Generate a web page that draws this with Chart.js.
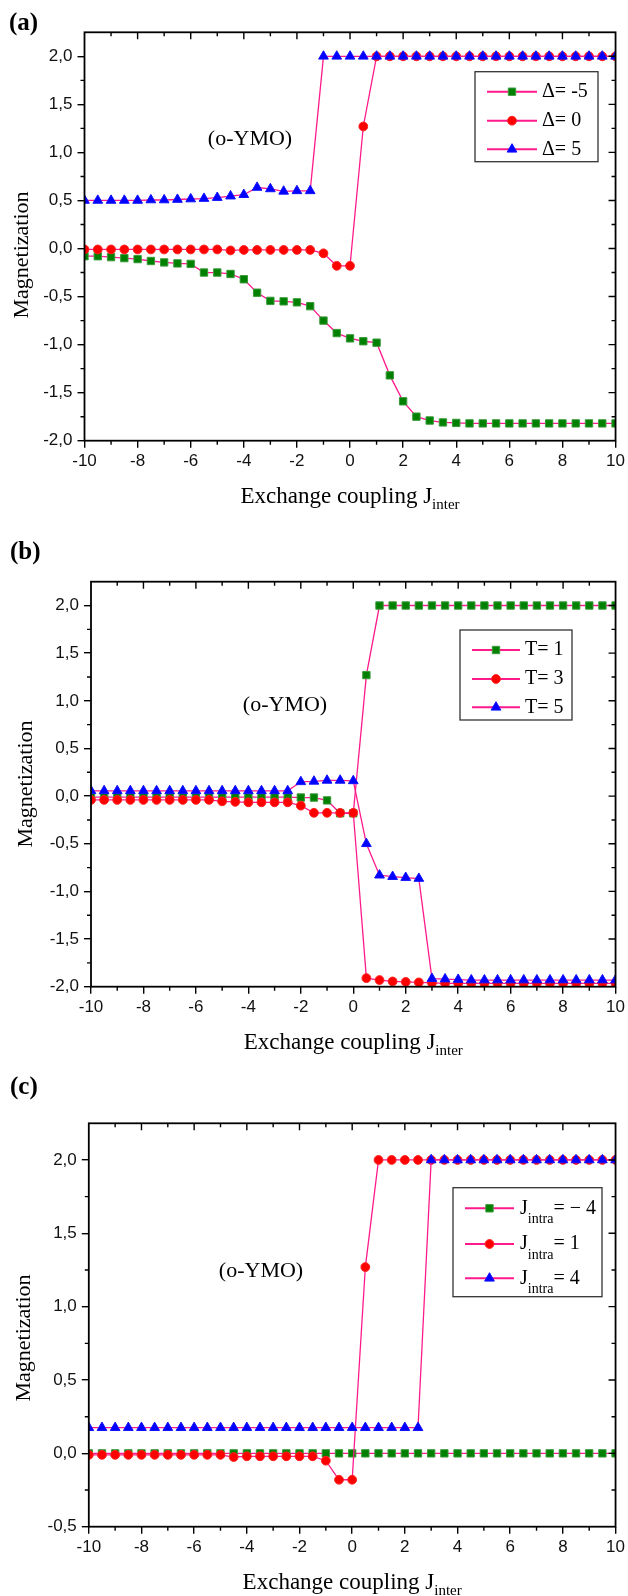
<!DOCTYPE html>
<html>
<head>
<meta charset="utf-8">
<script src="https://cdn.jsdelivr.net/npm/chart.js@4.4.1/dist/chart.umd.min.js"></script>
<style>
html, body { margin: 0; padding: 0; background: #fff; }
#wrap { position: relative; width: 628px; height: 1596px; overflow: hidden; }
canvas { position: absolute; left: 0; }
</style>
</head>
<body>
<div id="wrap">
  <canvas id="panelA" width="628" height="530" style="top:0px;width:628px;height:530px"></canvas>
  <canvas id="panelB" width="628" height="530" style="top:530px;width:628px;height:530px"></canvas>
  <canvas id="panelC" width="628" height="536" style="top:1060px;width:628px;height:536px"></canvas>
</div>
<script>
// x values shared by every curve (exchange coupling J_inter)
const jInter = [-10, -9.5, -9, -8.5, -8, -7.5, -7, -6.5, -6, -5.5, -5, -4.5, -4, -3.5, -3, -2.5, -2, -1.5, -1, -0.5,
                0, 0.5, 1, 1.5, 2, 2.5, 3, 3.5, 4, 4.5, 5, 5.5, 6, 6.5, 7, 7.5, 8, 8.5, 9, 9.5, 10];

// panel (a): anisotropy Delta
const deltaMinus5 = [-0.08, -0.08, -0.09, -0.10, -0.11, -0.13, -0.145, -0.155, -0.16, -0.25, -0.25, -0.265, -0.32, -0.46,
                     -0.545, -0.55, -0.56, -0.60, -0.75, -0.88, -0.935, -0.965, -0.98, -1.32, -1.59, -1.75, -1.79, -1.81,
                     -1.815, -1.82, -1.82, -1.82, -1.82, -1.82, -1.82, -1.82, -1.82, -1.82, -1.82, -1.82, -1.82];
const delta0 = [-0.01, -0.01, -0.01, -0.01, -0.01, -0.01, -0.01, -0.01, -0.01, -0.01, -0.01, -0.02, -0.015, -0.015,
                -0.015, -0.015, -0.015, -0.015, -0.05, -0.18, -0.18, 1.27, 2, 2, 2, 2, 2, 2, 2, 2, 2, 2, 2, 2, 2, 2, 2, 2, 2, 2, 2];
const delta5 = [0.50, 0.50, 0.50, 0.50, 0.50, 0.505, 0.505, 0.51, 0.515, 0.52, 0.53, 0.545, 0.56, 0.635, 0.62, 0.595,
                0.60, 0.60, 2, 2, 2, 2, 2, 2, 2, 2, 2, 2, 2, 2, 2, 2, 2, 2, 2, 2, 2, 2, 2, 2, 2];

// panel (b): temperature T
const temp1 = [-0.01, -0.01, -0.01, -0.01, -0.01, -0.01, -0.01, -0.01, -0.01, -0.01, -0.01, -0.01, -0.01, -0.01, -0.01,
               -0.01, -0.015, -0.015, -0.045, -0.18, -0.18, 1.27, 2, 2, 2, 2, 2, 2, 2, 2, 2, 2, 2, 2, 2, 2, 2, 2, 2, 2, 2];
const temp3 = [-0.04, -0.04, -0.04, -0.04, -0.04, -0.04, -0.04, -0.04, -0.04, -0.04, -0.055, -0.06, -0.065, -0.065,
               -0.065, -0.065, -0.10, -0.175, -0.175, -0.175, -0.175, -1.91, -1.93, -1.945, -1.95, -1.955, -1.96,
               -1.965, -1.965, -1.965, -1.965, -1.965, -1.965, -1.965, -1.965, -1.965, -1.965, -1.965, -1.965, -1.965, -1.965];
const temp5 = [0.055, 0.055, 0.055, 0.055, 0.055, 0.055, 0.055, 0.055, 0.055, 0.055, 0.055, 0.055, 0.055, 0.055, 0.055,
               0.055, 0.15, 0.155, 0.165, 0.165, 0.16, -0.50, -0.83, -0.845, -0.855, -0.865, -1.915, -1.92, -1.925,
               -1.93, -1.93, -1.93, -1.93, -1.93, -1.93, -1.93, -1.93, -1.93, -1.93, -1.93, -1.93];

// panel (c): intra-plane coupling J_intra
const intraMinus4 = [0, 0, 0, 0, 0, 0, 0, 0, 0, 0, 0, 0, 0, 0, 0, 0, 0, 0, 0, 0, 0, 0, 0, 0, 0, 0, 0, 0, 0, 0, 0, 0, 0, 0,
                     0, 0, 0, 0, 0, 0, 0];
const intra1 = [-0.01, -0.01, -0.01, -0.01, -0.01, -0.01, -0.01, -0.01, -0.01, -0.01, -0.01, -0.025, -0.02, -0.02, -0.02,
                -0.02, -0.02, -0.02, -0.05, -0.18, -0.18, 1.27, 2, 2, 2, 2, 2, 2, 2, 2, 2, 2, 2, 2, 2, 2, 2, 2, 2, 2, 2];
const intra4 = [0.175, 0.175, 0.175, 0.175, 0.175, 0.175, 0.175, 0.175, 0.175, 0.175, 0.175, 0.175, 0.175, 0.175, 0.175,
                0.175, 0.175, 0.175, 0.175, 0.175, 0.175, 0.175, 0.175, 0.175, 0.175, 0.175, 2, 2, 2, 2, 2, 2, 2, 2, 2,
                2, 2, 2, 2, 2, 2];

const legendA = ['\u0394= -5', '\u0394= 0', '\u0394= 5'];
const legendB = ['T= 1', 'T= 3', 'T= 5'];
const legendC = ['= \u2212 4', '= 1', '= 4'];

const LINE_PINK = '#ff1a8c';
const SERIF = '"Liberation Serif", "Times New Roman", serif';
const SANS = '"Liberation Sans", Arial, sans-serif';

const markers = {
    square:   { pointStyle: 'rect', radius: 5.2, fill: '#008000', edge: '#3a9a3a', order: 2 },
    circle:   { pointStyle: 'circle', radius: 4.4, fill: '#ff0000', edge: '#ff2020', order: 1 },
    triangle: { pointStyle: 'triangle', radius: 5.6, fill: '#0000ff', edge: '#1010ff', order: 0 }
};

function makeDataset(values, m) {
    return {
        data: values.map((v, i) => ({ x: jInter[i], y: v })),
        borderColor: LINE_PINK,
        borderWidth: 1.3,
        pointStyle: m.pointStyle,
        pointRadius: m.radius,
        pointBackgroundColor: m.fill,
        pointBorderColor: m.edge,
        pointBorderWidth: 1,
        fill: false,
        tension: 0,
        order: m.order
    };
}

function drawMarker(ctx, style, x, y, r) {
    ctx.beginPath();
    if (style === 'rect') {
        const s = Math.SQRT1_2 * r;
        ctx.rect(x - s, y - s, 2 * s, 2 * s);
    } else if (style === 'circle') {
        ctx.arc(x, y, r, 0, Math.PI * 2);
    } else {
        for (let k = 0; k < 3; k++) {
            const a = k * 2 * Math.PI / 3;
            const px = x + Math.sin(a) * r, py = y - Math.cos(a) * r;
            if (k === 0) ctx.moveTo(px, py); else ctx.lineTo(px, py);
        }
        ctx.closePath();
    }
    ctx.fill();
    ctx.stroke();
}

// frame, mirrored ticks and minor ticks
const frameTicks = {
    id: 'frameTicks',
    afterDatasetsDraw(chart) {
        const { ctx, chartArea: a, scales: { x, y } } = chart;
        ctx.save();
        ctx.strokeStyle = '#000';
        ctx.lineWidth = 1.4;
        ctx.beginPath();
        for (let i = -10; i <= 10; i++) {
            const px = x.getPixelForValue(i);
            const major = i % 2 === 0;
            const len = major ? 7 : 4;
            if (!major) { ctx.moveTo(px, a.bottom); ctx.lineTo(px, a.bottom + len); }
            if (i > -10 && i < 10) { ctx.moveTo(px, a.top); ctx.lineTo(px, a.top + len); }
        }
        for (let k = Math.ceil(y.min * 4); k <= Math.floor(y.max * 4 + 1e-6); k++) {
            const py = y.getPixelForValue(k / 4);
            if (py < a.top + 1 || py > a.bottom - 1) continue;
            const major = k % 2 === 0;
            const len = major ? 7 : 4;
            if (!major) { ctx.moveTo(a.left, py); ctx.lineTo(a.left - len, py); }
            ctx.moveTo(a.right, py); ctx.lineTo(a.right - len, py);
        }
        ctx.stroke();
        ctx.lineWidth = 1.8;
        ctx.strokeRect(a.left, a.top, a.right - a.left, a.bottom - a.top);
        ctx.restore();
    }
};

// panel letter, annotation, axis titles and legend box
const panelText = {
    id: 'panelText',
    afterDraw(chart, args, o) {
        const { ctx, chartArea: a } = chart;
        ctx.save();
        ctx.fillStyle = '#000';
        ctx.textBaseline = 'middle';

        ctx.font = 'bold 25px ' + SERIF;
        ctx.textAlign = 'left';
        ctx.fillText(o.letter, o.letterPos[0], o.letterPos[1]);

        ctx.font = '22px ' + SERIF;
        ctx.textAlign = 'center';
        ctx.fillText('(o-YMO)', o.ymoPos[0], o.ymoPos[1]);

        // y title
        ctx.save();
        ctx.translate(o.magPos[0], o.magPos[1]);
        ctx.rotate(-Math.PI / 2);
        ctx.font = '22px ' + SERIF;
        ctx.fillText('Magnetization', 0, 0);
        ctx.restore();

        // x title with subscript
        ctx.textAlign = 'left';
        ctx.textBaseline = 'alphabetic';
        ctx.font = '23px ' + SERIF;
        const mainTxt = 'Exchange coupling J';
        const w1 = ctx.measureText(mainTxt).width;
        ctx.font = '15px ' + SERIF;
        const w2 = ctx.measureText('inter').width;
        const x0 = (a.left + a.right) / 2 - (w1 + w2) / 2;
        const base = a.bottom + 62;
        ctx.font = '23px ' + SERIF;
        ctx.fillText(mainTxt, x0, base);
        ctx.font = '15px ' + SERIF;
        ctx.fillText('inter', x0 + w1, base + 6.5);

        // legend
        const L = o.legend;
        ctx.fillStyle = '#fff';
        ctx.fillRect(L.box[0], L.box[1], L.box[2] - L.box[0], L.box[3] - L.box[1]);
        ctx.strokeStyle = '#333';
        ctx.lineWidth = 1.3;
        ctx.strokeRect(L.box[0], L.box[1], L.box[2] - L.box[0], L.box[3] - L.box[1]);
        const ds = chart.data.datasets;
        L.labels.forEach((lab, i) => {
            const d = ds[i];
            const ry = L.rows[i];
            ctx.strokeStyle = LINE_PINK;
            ctx.lineWidth = 2;
            ctx.beginPath();
            ctx.moveTo(L.line[0], ry);
            ctx.lineTo(L.line[1], ry);
            ctx.stroke();
            ctx.fillStyle = d.pointBackgroundColor;
            ctx.strokeStyle = d.pointBorderColor;
            ctx.lineWidth = 1;
            drawMarker(ctx, d.pointStyle, (L.line[0] + L.line[1]) / 2, ry, d.pointRadius);
            ctx.fillStyle = '#000';
            ctx.textBaseline = 'middle';
            if (L.sub) {
                ctx.font = '20px ' + SERIF;
                ctx.fillText('J', L.textX, ry);
                const wj = ctx.measureText('J').width;
                ctx.font = '14px ' + SERIF;
                ctx.fillText(L.sub, L.textX + wj, ry + 11);
                const ws = ctx.measureText(L.sub).width;
                ctx.font = '20px ' + SERIF;
                ctx.fillText(lab, L.textX + wj + ws, ry);
            } else {
                ctx.font = '20px ' + SERIF;
                ctx.fillText(lab, L.textX, ry);
            }
        });
        ctx.restore();
    }
};

function fmtY(v) {
    if (Math.abs(v) < 1e-9) return '0,0';
    return v.toFixed(1).replace('.', ',');
}

function buildPanel(id, cfg) {
    const canvas = document.getElementById(id);
    const a = cfg.area;
    new Chart(canvas.getContext('2d'), {
        type: 'line',
        data: { datasets: cfg.datasets },
        options: {
            responsive: false,
            animation: false,
            devicePixelRatio: 1,
            layout: { padding: { left: 0, top: a.t, right: 628 - a.r, bottom: canvas.height - a.b - 40 } },
            plugins: { legend: { display: false }, tooltip: { enabled: false }, panelText: cfg.text },
            scales: {
                x: {
                    type: 'linear', min: -10, max: 10,
                    border: { display: false },
                    grid: { drawOnChartArea: false, drawTicks: true, tickLength: 7, color: '#000', lineWidth: 1.4 },
                    ticks: { stepSize: 2, autoSkip: false, maxRotation: 0, padding: 3, color: '#111',
                             font: { family: SANS, size: 17 } },
                    afterFit(s) { s.height = 40; }
                },
                y: {
                    type: 'linear', min: cfg.yMin, max: 2.25,
                    border: { display: false },
                    grid: { drawOnChartArea: false, drawTicks: true, tickLength: 7, color: '#000', lineWidth: 1.4 },
                    ticks: { stepSize: 0.5, includeBounds: false, padding: 5, color: '#111',
                             font: { family: SANS, size: 17 }, callback: fmtY },
                    afterFit(s) { s.width = a.l; }
                }
            }
        },
        plugins: [frameTicks, panelText]
    });
}

buildPanel('panelA', {
    area: { l: 84.5, r: 616, t: 32.3, b: 440.7 },
    yMin: -2,
    datasets: [makeDataset(deltaMinus5, markers.square), makeDataset(delta0, markers.circle), makeDataset(delta5, markers.triangle)],
    text: {
        letter: '(a)', letterPos: [9, 24], ymoPos: [250, 139], magPos: [22, 255],
        legend: { box: [475, 71.7, 598, 161.7], rows: [91.7, 120.7, 149.3], line: [487, 537], textX: 542, labels: legendA }
    }
});

buildPanel('panelB', {
    area: { l: 91, r: 616, t: 51.7, b: 456.7 },
    yMin: -2,
    datasets: [makeDataset(temp1, markers.square), makeDataset(temp3, markers.circle), makeDataset(temp5, markers.triangle)],
    text: {
        letter: '(b)', letterPos: [10, 22.5], ymoPos: [285, 175], magPos: [26, 254],
        legend: { box: [460, 100, 572, 190], rows: [120, 149, 177.3], line: [472, 520], textX: 525, labels: legendB }
    }
});

buildPanel('panelC', {
    area: { l: 88.8, r: 617, t: 63.3, b: 466.7 },
    yMin: -0.5,
    datasets: [makeDataset(intraMinus4, markers.square), makeDataset(intra1, markers.circle), makeDataset(intra4, markers.triangle)],
    text: {
        letter: '(c)', letterPos: [10, 28], ymoPos: [261, 211], magPos: [24, 278],
        legend: { box: [453, 127.7, 602, 236.7], rows: [148.3, 184, 218.3], line: [465, 514], textX: 520,
                  labels: legendC, sub: 'intra' }
    }
});
</script>
</body>
</html>
